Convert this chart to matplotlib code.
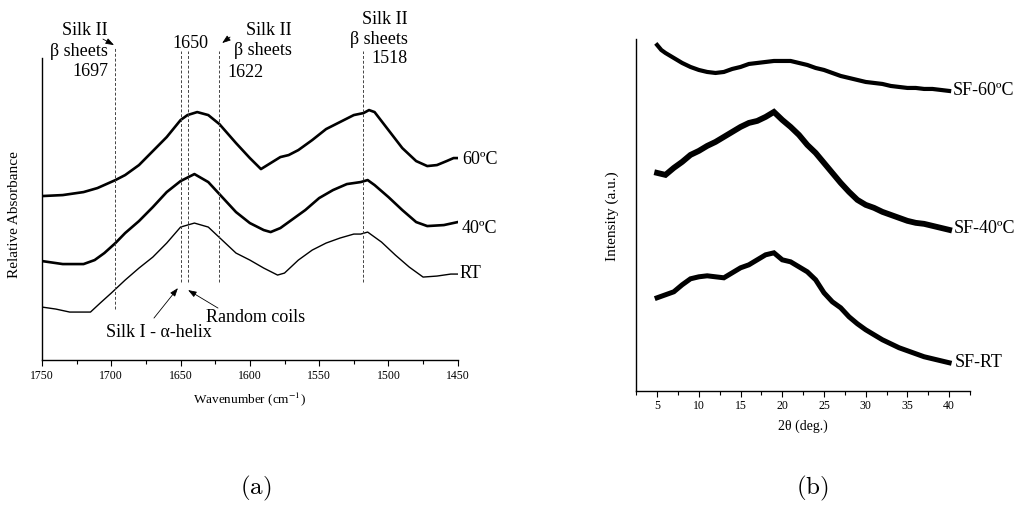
import matplotlib
matplotlib.use("Agg")
import matplotlib.pyplot as plt
from matplotlib.ticker import MultipleLocator

plt.rcParams["font.family"] = ["Liberation Serif", "DejaVu Serif"]
plt.rcParams["mathtext.fontset"] = "stix"

# FTIR spectra (a): wavenumber in cm-1, relative absorbance in arbitrary units (offset curves)
wn_60 = [1750, 1735, 1720, 1710, 1697, 1690, 1680, 1670, 1660, 1650, 1645, 1638, 1630, 1622,
         1610, 1600, 1592, 1585, 1578, 1572, 1565, 1555, 1545, 1535, 1525, 1518, 1514, 1510,
         1500, 1490, 1480, 1472, 1465, 1458, 1453, 1450]
abs_60 = [164, 165, 168, 172, 180, 185, 195, 209, 223, 240, 245, 248, 245, 236,
          217, 202, 191, 197, 203, 205, 210, 220, 231, 238, 245, 247, 250, 248,
          230, 212, 199, 194, 195, 199, 202, 202]

wn_40 = [1750, 1735, 1720, 1712, 1705, 1697, 1690, 1680, 1670, 1660, 1650, 1640, 1630, 1620,
         1610, 1600, 1590, 1585, 1578, 1570, 1560, 1550, 1540, 1530, 1520, 1515, 1510,
         1500, 1490, 1480, 1472, 1460, 1450]
abs_40 = [99, 96, 96, 100, 107, 117, 127, 139, 153, 168, 179, 186, 178, 163,
          148, 137, 130, 128, 132, 140, 150, 162, 170, 176, 178, 180, 175,
          163, 150, 138, 134, 135, 138]

wn_rt = [1750, 1740, 1730, 1720, 1715, 1708, 1700, 1690, 1680, 1670, 1660, 1650, 1640, 1630,
         1620, 1610, 1600, 1590, 1580, 1575, 1565, 1555, 1545, 1535, 1525, 1520, 1515,
         1505, 1495, 1485, 1475, 1465, 1455, 1450]
abs_rt = [53, 51, 48, 48, 48, 57, 67, 80, 92, 103, 117, 133, 137, 133,
          120, 107, 100, 92, 85, 87, 100, 110, 117, 122, 126, 126, 128,
          118, 105, 93, 83, 84, 86, 86]

band_marks = [1697, 1650, 1644.5, 1622, 1518]

# XRD patterns (b): 2theta in degrees, intensity in arbitrary units (offset curves)
theta_60 = [5, 5.5, 6, 7, 8, 9, 10, 11, 12, 13, 14, 15, 16, 17, 18, 19, 20, 21, 22, 23, 24,
            25, 26, 27, 28, 29, 30, 31, 32, 33, 34, 35, 36, 37, 38, 39, 40]
int_60 = [346, 341, 338, 333, 328, 324, 321, 319, 318, 319, 322, 324, 327, 328, 329, 330, 330,
          330, 328, 326, 323, 321, 318, 315, 313, 311, 309, 308, 307, 305, 304, 303, 303,
          302, 302, 301, 300]

theta_xrd = [5, 6, 7, 8, 9, 10, 11, 12, 13, 14, 15, 16, 17, 18, 19, 20, 21, 22, 23, 24,
             25, 26, 27, 28, 29, 30, 31, 32, 33, 34, 35, 36, 37, 38, 39, 40]
int_40 = [218, 216, 223, 229, 236, 240, 245, 249, 254, 259, 264, 268, 270, 274, 279, 271,
          264, 256, 246, 238, 228, 218, 208, 199, 191, 186, 183, 179, 176, 173, 170, 168,
          167, 165, 163, 161]
int_rt = [93, 96, 99, 106, 112, 114, 115, 114, 113, 118, 123, 126, 131, 136, 138, 131,
          129, 124, 119, 111, 98, 89, 83, 74, 67, 61, 56, 51, 47, 43, 40, 37, 34, 32, 30, 28]

fig = plt.figure(figsize=(10.19, 5.05), dpi=100)

# ---------- (a) FTIR ----------
ax1 = fig.add_axes([0.0412, 0.287, 0.408, 0.598])
ax1.plot(wn_60, abs_60, color="black", lw=1.9)
ax1.plot(wn_40, abs_40, color="black", lw=1.9)
ax1.plot(wn_rt, abs_rt, color="black", lw=1.0)

for w in band_marks:
    top = 313 if w == 1697 else 309
    bot = 51 if w == 1697 else 78
    ax1.plot([w, w], [bot, top], color="#444444", lw=0.7, ls=(0, (3, 2)), clip_on=False)

ax1.set_xlim(1750, 1450)
ax1.set_ylim(0, 302)
ax1.xaxis.set_major_locator(MultipleLocator(50))
ax1.xaxis.set_minor_locator(MultipleLocator(25))
ax1.tick_params(axis="x", which="major", direction="out", length=4, width=0.8, labelsize=8.5, pad=3.5)
ax1.tick_params(axis="x", which="minor", direction="out", length=3, width=0.8)
ax1.set_yticks([])
for s in ["top", "right"]:
    ax1.spines[s].set_visible(False)
for s in ["left", "bottom"]:
    ax1.spines[s].set_linewidth(1.0)
ax1.set_xlabel("Wavenumber (cm$^{-1}$)", fontsize=9.5, labelpad=6)
ax1.set_ylabel("Relative Absorbance", fontsize=11)
ax1.yaxis.set_label_coords(-0.05, 0.483)

fs = 13
ax1.text(1702.4, 309, "Silk II\n\u03b2 sheets\n1697", ha="right", va="center",
         multialignment="right", fontsize=fs, linespacing=1.25)
ax1.text(1643.2, 317, "1650", ha="center", va="center", fontsize=fs)
ax1.text(1569.6, 319.5, "Silk II\n\u03b2 sheets", ha="right", va="center",
         multialignment="right", fontsize=fs, linespacing=1.25)
ax1.text(1616.5, 288, "1622", ha="left", va="center", fontsize=fs)
ax1.text(1485.9, 321, "Silk II\n\u03b2 sheets\n1518", ha="right", va="center",
         multialignment="right", fontsize=fs, linespacing=1.2)
ax1.text(1446.9, 201, "60\u00baC", ha="left", va="center", fontsize=fs)
ax1.text(1446.9, 132, "40\u00baC", ha="left", va="center", fontsize=fs)
ax1.text(1448.4, 87, "RT", ha="left", va="center", fontsize=fs)

arrow = dict(arrowstyle="-|>,head_length=0.5,head_width=0.18", color="black", lw=0.6,
             shrinkA=0, shrinkB=0)
ax1.annotate("", xy=(1698, 315), xytext=(1706, 321), arrowprops=arrow, annotation_clip=False)
ax1.annotate("", xy=(1620, 317), xytext=(1614.3, 323), arrowprops=arrow, annotation_clip=False)
ax1.annotate("", xy=(1651.9, 72), xytext=(1669.2, 42), arrowprops=arrow)
ax1.annotate("", xy=(1644.6, 70), xytext=(1623, 52), arrowprops=arrow)
ax1.text(1665.9, 28, "Silk I - \u03b1-helix", ha="center", va="center", fontsize=fs)
ax1.text(1595.6, 43, "Random coils", ha="center", va="center", fontsize=fs)

# ---------- (b) XRD ----------
ax2 = fig.add_axes([0.6244, 0.2263, 0.3275, 0.6965])
ax2.plot(theta_60, int_60, color="black", lw=3.0, solid_joinstyle="miter")
ax2.plot(theta_xrd, int_40, color="black", lw=4.2, solid_joinstyle="miter")
ax2.plot(theta_xrd, int_rt, color="black", lw=3.6, solid_joinstyle="miter")
ax2.set_xlim(2.5, 42.5)
ax2.set_ylim(0, 352)
ax2.xaxis.set_major_locator(MultipleLocator(5))
ax2.xaxis.set_minor_locator(MultipleLocator(2.5))
ax2.tick_params(axis="x", which="major", direction="out", length=4, width=0.8, labelsize=8.5, pad=3)
ax2.tick_params(axis="x", which="minor", direction="out", length=3, width=0.8)
ax2.set_yticks([])
for s in ["top", "right"]:
    ax2.spines[s].set_visible(False)
for s in ["left", "bottom"]:
    ax2.spines[s].set_linewidth(1.0)
ax2.set_xlabel("2\u03b8 (deg.)", fontsize=10, labelpad=5)
ax2.set_ylabel("Intensity (a.u.)", fontsize=11)
ax2.yaxis.set_label_coords(-0.053, 0.497)

ax2.text(40.4, 300, "SF-60\u00baC", ha="left", va="center", fontsize=fs)
ax2.text(40.6, 162, "SF-40\u00baC", ha="left", va="center", fontsize=fs)
ax2.text(40.7, 28, "SF-RT", ha="left", va="center", fontsize=fs)

# panel letters
fig.text(256 / 1019, 1 - 488 / 505, r"$\mathrm{(a)}$", ha="center", va="center",
         fontsize=18, math_fontfamily="cm")
fig.text(812 / 1019, 1 - 488 / 505, r"$\mathrm{(b)}$", ha="center", va="center",
         fontsize=18, math_fontfamily="cm")

fig.savefig("out.png", dpi=100)
